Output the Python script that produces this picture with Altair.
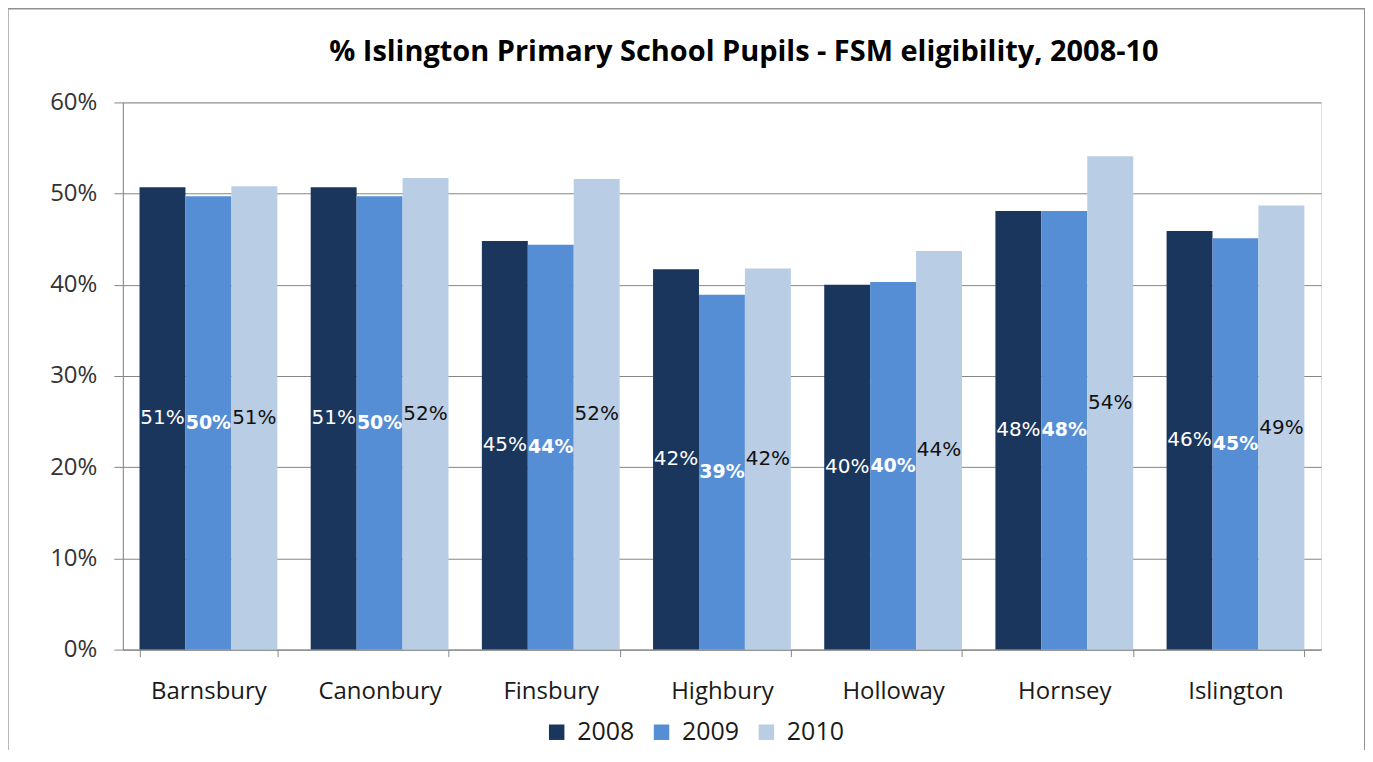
import altair as alt
import pandas as pd

regions = ["Barnsbury", "Canonbury", "Finsbury", "Highbury", "Holloway", "Hornsey", "Islington"]
years = ["2008", "2009", "2010"]
v2008 = [0.507, 0.507, 0.448, 0.417, 0.400, 0.481, 0.459]
v2009 = [0.497, 0.497, 0.444, 0.389, 0.403, 0.481, 0.451]
v2010 = [0.508, 0.517, 0.516, 0.418, 0.437, 0.541, 0.487]
colors = ["#1b365d", "#558ed5", "#b9cde5"]
y_ticks = [0, 0.1, 0.2, 0.3, 0.4, 0.5, 0.6]
title_text = "% Islington Primary School Pupils - FSM eligibility, 2008-10"

rows = []
for yr, vals in zip(years, [v2008, v2009, v2010]):
    for r, v in zip(regions, vals):
        rows.append({"Region": r, "Year": yr, "Value": v, "Half": v / 2})
df = pd.DataFrame(rows)

FONT = "Open Sans"

x_enc = alt.X(
    "Region:N",
    sort=regions,
    title=None,
    scale=alt.Scale(paddingInner=0.195, paddingOuter=0.0975),
    axis=alt.Axis(
        labelAngle=0, tickBand="extent", tickSize=7, labelPadding=23,
        domainColor="#868686", tickColor="#868686", labelColor="#1a1a1a",
        labelFont=FONT, labelFontSize=24, grid=False,
    ),
)
xoff = alt.XOffset("Year:N", sort=years, scale=alt.Scale(paddingInner=0, paddingOuter=0))

bars = alt.Chart(df).mark_bar().encode(
    x=x_enc,
    xOffset=xoff,
    y=alt.Y(
        "Value:Q",
        title=None,
        scale=alt.Scale(domain=[0, 0.6], nice=False),
        axis=alt.Axis(
            format=".0%", values=y_ticks, tickSize=9, labelPadding=17,
            gridColor="#868686", domainColor="#868686", tickColor="#868686",
            labelColor="#333333", labelFont=FONT, labelFontSize=24,
        ),
    ),
    color=alt.Color(
        "Year:N",
        sort=years,
        scale=alt.Scale(domain=years, range=colors),
        legend=alt.Legend(
            title=None, orient="none", direction="horizontal",
            legendX=422, legendY=618, symbolType="square", symbolSize=240,
            symbolStrokeWidth=0, labelFont=FONT, labelFontSize=25,
            labelColor="#1a1a1a", labelOffset=8,
        ),
    ),
)

text_normal = alt.Chart(df).transform_filter(alt.datum.Year != "2009").mark_text(
    font="DejaVu Sans", fontSize=20, baseline="middle", align="center"
).encode(
    x=alt.X("Region:N", sort=regions),
    xOffset=alt.XOffset("Year:N", sort=years),
    y=alt.Y("Half:Q"),
    text=alt.Text("Value:Q", format=".0%"),
    color=alt.condition(alt.datum.Year == "2010", alt.value("#111111"), alt.value("white")),
)

text_bold = alt.Chart(df).transform_filter(alt.datum.Year == "2009").mark_text(
    font="DejaVu Sans", fontSize=19, fontWeight="bold", baseline="middle", align="center",
    color="white",
).encode(
    x=alt.X("Region:N", sort=regions),
    xOffset=alt.XOffset("Year:N", sort=years),
    y=alt.Y("Half:Q"),
    text=alt.Text("Value:Q", format=".0%"),
)

frame_data = alt.Data(values=[{"k": 0}])
title_mark = alt.Chart(frame_data).mark_text(
    text=title_text, font=FONT, fontSize=29, fontWeight="bold", color="#000000",
    align="center", baseline="middle",
).encode(x=alt.value(622), y=alt.value(-50))

frame_left = alt.Chart(frame_data).mark_rule(color="#707070", strokeWidth=3).encode(
    x=alt.value(-116), y=alt.value(-94), y2=alt.value(660)
)
frame_top = alt.Chart(frame_data).mark_rule(color="#909090", strokeWidth=2).encode(
    x=alt.value(-116), x2=alt.value(1244), y=alt.value(-94)
)
frame_right = alt.Chart(frame_data).mark_rule(color="#909090", strokeWidth=2).encode(
    x=alt.value(1244), y=alt.value(-94), y2=alt.value(660)
)

chart = alt.layer(
    bars, text_normal, text_bold, title_mark, frame_left, frame_top, frame_right
).properties(
    width=1200,
    height=548,
    autosize=alt.AutoSizeParams(type="none"),
    padding={"left": 115, "top": 94, "right": 44, "bottom": 100},
).configure_view(stroke=None).configure(background="white").configure_legend(columnPadding=14)

chart.save("out.html", embed_options={"renderer": "svg", "actions": False})
